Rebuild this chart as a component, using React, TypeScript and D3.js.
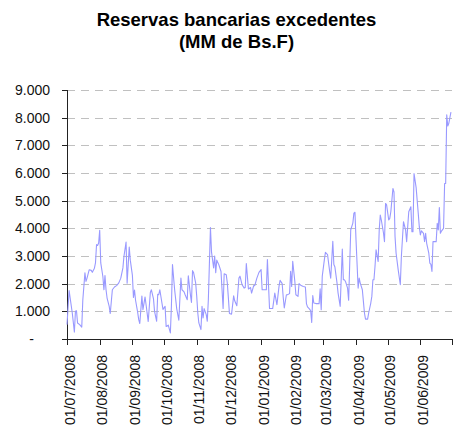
import * as d3 from 'd3';

const titulo = ['Reservas bancarias excedentes', '(MM de Bs.F)'];

// fechas (aaaa-mm-dd) y reservas excedentes en MM de Bs.F
const fechas = [
  '2008-07-01','2008-07-03','2008-07-06','2008-07-08','2008-07-09','2008-07-10','2008-07-11','2008-07-13',
  '2008-07-15','2008-07-16','2008-07-18','2008-07-19','2008-07-20','2008-07-22','2008-07-24','2008-07-25',
  '2008-07-27','2008-07-28','2008-07-29','2008-07-30','2008-07-31',
  '2008-08-01','2008-08-02','2008-08-04','2008-08-05','2008-08-06','2008-08-07','2008-08-08','2008-08-10',
  '2008-08-11','2008-08-13','2008-08-15','2008-08-17','2008-08-19','2008-08-21','2008-08-23','2008-08-24',
  '2008-08-26','2008-08-27','2008-08-29','2008-08-30',
  '2008-09-01','2008-09-02','2008-09-03','2008-09-04','2008-09-06','2008-09-07','2008-09-08','2008-09-10',
  '2008-09-11','2008-09-13','2008-09-14','2008-09-16','2008-09-18','2008-09-19','2008-09-21','2008-09-22',
  '2008-09-24','2008-09-25','2008-09-26','2008-09-27','2008-09-29','2008-09-30',
  '2008-10-02','2008-10-03','2008-10-05','2008-10-07','2008-10-08','2008-10-09','2008-10-11','2008-10-13',
  '2008-10-15','2008-10-17','2008-10-18','2008-10-20','2008-10-21','2008-10-23','2008-10-24','2008-10-26',
  '2008-10-27','2008-10-28','2008-10-29','2008-10-31',
  '2008-11-01','2008-11-02','2008-11-03','2008-11-05','2008-11-06','2008-11-07','2008-11-08','2008-11-10',
  '2008-11-11','2008-11-12','2008-11-14','2008-11-15','2008-11-17','2008-11-18','2008-11-19','2008-11-20',
  '2008-11-22','2008-11-24','2008-11-26','2008-11-27','2008-11-29','2008-11-30',
  '2008-12-01','2008-12-02','2008-12-04','2008-12-06','2008-12-07','2008-12-09','2008-12-11','2008-12-12',
  '2008-12-14','2008-12-16','2008-12-17','2008-12-18','2008-12-20','2008-12-22','2008-12-23','2008-12-25',
  '2008-12-26','2008-12-28','2008-12-30',
  '2009-01-01','2009-01-02','2009-01-04','2009-01-06','2009-01-07','2009-01-09','2009-01-11','2009-01-12',
  '2009-01-14','2009-01-16','2009-01-18','2009-01-19','2009-01-21','2009-01-22','2009-01-23','2009-01-25',
  '2009-01-26','2009-01-28','2009-01-29','2009-01-30','2009-01-31',
  '2009-02-02','2009-02-03','2009-02-05','2009-02-06','2009-02-08','2009-02-10','2009-02-12','2009-02-13',
  '2009-02-14','2009-02-16','2009-02-17','2009-02-18','2009-02-19','2009-02-20','2009-02-22','2009-02-24',
  '2009-02-25','2009-02-26','2009-02-27','2009-02-28',
  '2009-03-02','2009-03-03','2009-03-05','2009-03-07','2009-03-08','2009-03-10','2009-03-11','2009-03-12',
  '2009-03-14','2009-03-15','2009-03-17','2009-03-19','2009-03-20','2009-03-21','2009-03-22','2009-03-24',
  '2009-03-25','2009-03-27','2009-03-29','2009-03-30','2009-03-31',
  '2009-04-01','2009-04-03','2009-04-04','2009-04-05','2009-04-07','2009-04-08','2009-04-09','2009-04-10',
  '2009-04-12','2009-04-13','2009-04-15','2009-04-16','2009-04-17','2009-04-18','2009-04-19','2009-04-20',
  '2009-04-22','2009-04-23','2009-04-24','2009-04-25','2009-04-27','2009-04-28','2009-04-29','2009-04-30',
  '2009-05-02','2009-05-03','2009-05-04','2009-05-06','2009-05-07','2009-05-08','2009-05-09','2009-05-11',
  '2009-05-13','2009-05-14','2009-05-16','2009-05-18','2009-05-19','2009-05-21','2009-05-23','2009-05-24',
  '2009-05-25','2009-05-26','2009-05-28','2009-05-30','2009-05-31',
  '2009-06-01','2009-06-02','2009-06-04','2009-06-05','2009-06-06','2009-06-07','2009-06-09','2009-06-10',
  '2009-06-11','2009-06-12','2009-06-13','2009-06-14','2009-06-16','2009-06-17','2009-06-18','2009-06-19',
  '2009-06-20','2009-06-21','2009-06-23','2009-06-24','2009-06-25','2009-06-26','2009-06-27','2009-06-28',
  '2009-06-29','2009-06-30',
];

const reservas = [
  520,1750,940,250,1000,1020,580,520,
  430,1420,2390,2080,2200,2500,2480,2410,
  2560,2750,3410,3380,3470,
  3930,2750,2260,1780,2290,1780,1480,1180,
  920,1780,1880,1930,2020,2200,2570,2990,
  3500,2020,3320,2850,
  2300,1500,1770,1400,960,700,560,1550,
  1060,1520,1230,630,1680,1780,1450,1000,
  640,1620,1600,1780,1300,1070,
  1180,450,500,220,1200,2690,1800,1100,
  680,2200,1780,1700,1600,1420,2280,1600,
  1320,2470,2400,2020,
  1540,940,580,340,1180,760,1100,880,
  640,1420,4030,3150,2570,3000,2400,2850,
  2680,2440,1100,2360,2320,2020,
  1480,920,900,1560,1380,1200,2200,2270,
  1960,1840,1860,2730,1810,1860,1660,1930,
  1930,2200,2410,
  2510,1780,1780,1780,2870,1100,1100,1100,
  1660,1240,1900,2120,2000,1500,1120,1600,
  1600,1640,2450,1900,2810,
  2080,1600,1540,2000,1930,1900,1880,1280,
  1160,1080,1020,600,1570,1300,1280,1280,
  1280,1810,1060,2270,
  2870,3130,3050,2450,2200,3530,2690,2600,
  2020,1660,1180,3250,2140,2140,2080,1840,
  1400,3950,4190,4550,4580,
  3590,1840,2200,2020,1780,1360,940,720,
  720,940,1300,1540,2140,2140,2620,3220,
  2800,3940,4480,4300,3840,3520,4900,4850,
  4300,4360,4600,5440,5320,3700,3100,2500,
  1960,2980,4240,3940,3520,4600,4780,3880,
  3880,5980,5470,4540,4060,
  3760,3910,3820,3520,3820,3460,3100,2740,
  2700,2440,3520,3520,3520,4180,3940,4750,
  3820,3900,4000,5620,5620,8100,7700,7800,
  8000,8200,
];

const yTicks = [0, 1000, 2000, 3000, 4000, 5000, 6000, 7000, 8000, 9000];
const xTicks = [
  '2008-07-01','2008-08-01','2008-09-01','2008-10-01','2008-11-01','2008-12-01',
  '2009-01-01','2009-02-01','2009-03-01','2009-04-01','2009-05-01','2009-06-01',
];

const parse = d3.timeParse('%Y-%m-%d');
const fmtFecha = d3.timeFormat('%d/%m/%Y');
const fmtNum = d3.formatLocale({ decimal: ',', thousands: '.', grouping: [3], currency: ['', ''] }).format(',');
const font = 'Arial, "Liberation Sans", sans-serif';

export default function App() {
  const W = 461, H = 430;
  const left = 67, right = 452, top = 90, bottom = 339;

  const x = d3.scaleTime()
    .domain([parse('2008-07-01') as Date, parse('2009-07-01') as Date])
    .range([left, right]);
  const y = d3.scaleLinear().domain([0, 9000]).range([bottom, top]);

  const puntos = fechas.map((f, i) => ({ fecha: parse(f) as Date, valor: reservas[i] }));
  const linea = d3.line<{ fecha: Date; valor: number }>()
    .x(d => x(d.fecha))
    .y(d => y(d.valor));

  const tickDates = [...xTicks.map(t => parse(t) as Date), parse('2009-07-01') as Date];

  return (
    <svg width={W} height={H} style={{ position: 'absolute', left: 0, top: 0, background: '#fff' }}
      fontFamily={font}>
      <text x={236.5} y={26} textAnchor="middle" fontSize={18.5} fontWeight="bold">{titulo[0]}</text>
      <text x={236.5} y={48} textAnchor="middle" fontSize={18.5} fontWeight="bold">{titulo[1]}</text>

      {/* grid */}
      {yTicks.filter(t => t > 0).map(t => (
        <line key={'g' + t} x1={left} x2={right} y1={Math.round(y(t)) + 0.5} y2={Math.round(y(t)) + 0.5}
          stroke="#c0c0c0" strokeDasharray="8,6" />
      ))}

      {/* eje y */}
      <line x1={left + 0.5} x2={left + 0.5} y1={top} y2={bottom + 0.5} stroke="#222" />
      {yTicks.map(t => (
        <g key={'y' + t}>
          <line x1={left - 5} x2={left} y1={Math.round(y(t)) + 0.5} y2={Math.round(y(t)) + 0.5} stroke="#222" />
          <text x={t === 0 ? 34 : 50} y={y(t)} dy="0.36em" textAnchor="end" fontSize={14} fill="#111">
            {t === 0 ? '-' : fmtNum(t)}
          </text>
        </g>
      ))}

      {/* eje x */}
      <line x1={left} x2={right + 0.5} y1={bottom + 0.5} y2={bottom + 0.5} stroke="#222" />
      {tickDates.map((d, i) => (
        <line key={'xt' + i} x1={Math.round(x(d)) + 0.5} x2={Math.round(x(d)) + 0.5}
          y1={bottom} y2={bottom + 6} stroke="#222" />
      ))}
      {xTicks.map(t => {
        const d = parse(t) as Date;
        return (
          <text key={'xl' + t} transform={`translate(${x(d) + 2.5},355) rotate(-90)`}
            dy="0.36em" textAnchor="end" fontSize={14} fill="#111">{fmtFecha(d)}</text>
        );
      })}

      <path d={linea(puntos) || ''} fill="none" stroke="#9999ff" strokeWidth={1.1} strokeLinejoin="round" />
    </svg>
  );
}
